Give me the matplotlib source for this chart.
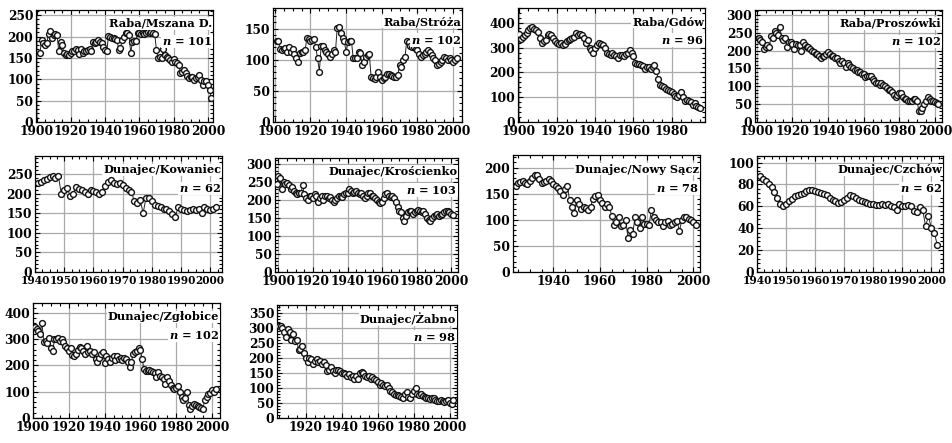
import numpy as np
import matplotlib.pyplot as plt
from matplotlib.ticker import AutoMinorLocator, MultipleLocator

plt.rcParams['font.family'] = 'DejaVu Serif'
plt.rcParams['font.weight'] = 'bold'
plt.rcParams['mathtext.fontset'] = 'custom'
plt.rcParams['mathtext.it'] = 'DejaVu Serif:bold:italic'
plt.rcParams['mathtext.rm'] = 'DejaVu Serif:bold'

# стоки (годовые значения)
mszana_start = 1902
mszana = [161, 192, 184, 180, 184, 207, 213, 196, 203, 207,
          203, 165, 186, 180, 161, 157, 158, 157, 161, 165,
          167, 170, 168, 159, 170, 161, 167, 165, 168, 170,
          165, 188, 184, 188, 192, 188, 184, 176, 168, 165,
          201, 200, 196, 196, 193, 192, 168, 172, 192, 200,
          209, 209, 203, 161, 188, 190, 190, 209, 209, 207,
          209, 206, 209, 211, 209, 211, 209, 206, 168, 149,
          151, 149, 170, 157, 153, 149, 145, 141, 147, 141,
          137, 134, 114, 118, 122, 114, 108, 102, 106, 106,
          99, 102, 106, 110, 99, 87, 95, 95, 87, 75,
          56]

stroza_start = 1901
stroza = [130, 130, 117, 115, 117, 119, 112, 120, 112, 117,
          109, 102, 96, 110, 112, 112, 115, 135, 134, 130,
          131, 134, 120, 102, 81, 122, 122, 115, 112, 109,
          105, 109, 115, 112, 151, 152, 143, 135, 130, 112,
          128, 130, 130, 102, 102, 102, 112, 110, 91, 96,
          104, 107, 109, 73, 70, 69, 73, 81, 73, 68,
          70, 73, 77, 77, 76, 74, 72, 73, 76, 91,
          89, 99, 104, 130, 128, 122, 121, 120, 117, 115,
          109, 104, 107, 109, 112, 115, 112, 107, 103, 99,
          91, 93, 96, 99, 104, 103, 100, 102, 99, 96,
          99, 102]

gdow_start = 1900
gdow = [355, 335, 345, 350, 360, 370, 380, 382, 375, 370,
        365, 340, 320, 325, 330, 350, 355, 350, 340, 325,
        320, 315, 320, 310, 315, 325, 330, 335, 340, 345,
        360, 350, 355, 350, 340, 320, 330, 300, 290, 280,
        300, 310, 320, 315, 310, 300, 280, 275, 270, 280,
        270, 265, 260, 270, 270, 265, 275, 280, 290, 280,
        265, 240, 235, 235, 230, 225, 215, 220, 220, 215,
        220, 230, 205, 175, 150, 145, 140, 135, 130, 125,
        120, 115, 105, 100, 110, 120, 100, 85, 90, 85,
        80, 70, 75, 65, 60, 55]

proszowki_start = 1901
proszowki = [235, 230, 225, 205, 210, 215, 210, 240, 235, 255,
             250, 245, 265, 235, 230, 235, 210, 225, 225, 220,
             205, 220, 215, 215, 200, 225, 215, 210, 210, 205,
             200, 195, 190, 190, 185, 180, 185, 185, 190, 195,
             190, 185, 185, 180, 180, 170, 165, 170, 165, 155,
             165, 160, 155, 150, 145, 145, 140, 140, 135, 135,
             125, 130, 130, 130, 120, 115, 110, 110, 105, 110,
             105, 100, 95, 90, 90, 85, 75, 70, 75, 80,
             80, 70, 65, 65, 60, 60, 60, 65, 65, 60,
             30, 30, 40, 50, 60, 70, 65, 60, 58, 55,
             52, 50]

kowaniec_start = 1941
kowaniec = [228, 230, 235, 238, 242, 245, 240, 245, 200, 210,
            215, 195, 198, 218, 212, 210, 205, 200, 208, 206,
            205, 200, 205, 220, 230, 235, 228, 225, 228, 222,
            215, 208, 205, 180, 175, 185, 150, 190, 188, 180,
            172, 168, 165, 162, 160, 155, 148, 140, 165, 162,
            158, 155, 158, 160, 158, 160, 150, 165, 160, 158,
            160, 165]

kroscienko_start = 1899
kroscienko = [245, 265, 260, 230, 250, 245, 248, 240, 230, 235,
              225, 220, 215, 220, 218, 240, 215, 205, 200, 210,
              210, 205, 215, 210, 195, 205, 210, 200, 210, 210,
              205, 208, 200, 195, 200, 205, 210, 212, 208, 215,
              218, 220, 230, 225, 220, 222, 225, 220, 215, 218,
              210, 205, 212, 220, 218, 212, 210, 205, 200, 195,
              190, 195, 205, 215, 218, 210, 208, 212, 205, 195,
              180, 170, 165, 150, 140, 155, 165, 170, 168, 160,
              165, 170, 172, 168, 165, 168, 160, 150, 145, 140,
              150, 155, 158, 160, 155, 158, 160, 165, 170, 170,
              165, 160, 158]

nowy_sacz_start = 1924
nowy_sacz = [165, 170, 172, 175, 170, 168, 175, 180, 185, 185,
             178, 170, 172, 175, 178, 175, 168, 165, 160, 155,
             148, 158, 165, 138, 125, 112, 138, 130, 120, 125,
             122, 118, 125, 140, 145, 148, 138, 132, 125, 130,
             125, 108, 90, 95, 105, 88, 90, 100, 65, 80,
             72, 105, 95, 85, 105, 92, 92, 90, 118, 105,
             100, 95, 95, 88, 95, 98, 90, 92, 95, 98,
             78, 100, 105, 105, 102, 100, 95, 90]

czchow_start = 1941
czchow = [88, 85, 83, 80, 78, 73, 68, 62, 60, 62,
          65, 67, 69, 70, 71, 72, 74, 75, 75, 74,
          73, 72, 71, 70, 68, 66, 65, 63, 64, 66,
          68, 70, 69, 68, 66, 65, 64, 63, 62, 62,
          61, 61, 62, 61, 62, 60, 59, 57, 62, 60,
          60, 61, 60, 56, 55, 59, 57, 42, 51, 40,
          36, 25]

zglobice_start = 1901
zglobice = [345, 340, 330, 320, 362, 290, 295, 285, 305, 265,
            255, 300, 300, 305, 295, 300, 290, 275, 265, 255,
            265, 240, 235, 245, 260, 270, 265, 255, 245, 275,
            250, 255, 245, 250, 225, 215, 230, 245, 250, 210,
            235, 225, 215, 230, 235, 220, 235, 225, 230, 220,
            230, 225, 215, 195, 215, 245, 250, 255, 265, 260,
            225, 185, 180, 180, 182, 178, 175, 170, 155, 175,
            160, 155, 150, 130, 155, 140, 125, 115, 110, 115,
            120, 100, 80, 70, 75, 100, 50, 35, 45, 55,
            50, 45, 40, 38, 35, 70, 80, 90, 95, 105,
            100, 110]

zabno_start = 1905
zabno = [305, 305, 300, 285, 270, 295, 285, 260, 280, 255,
         260, 225, 230, 240, 215, 200, 185, 200, 195, 180,
         190, 195, 185, 190, 180, 185, 175, 155, 160, 170,
         155, 150, 160, 158, 155, 150, 148, 145, 140, 145,
         135, 140, 130, 140, 128, 150, 152, 148, 140, 135,
         140, 130, 135, 128, 125, 120, 110, 115, 108, 105,
         110, 100, 90, 85, 80, 75, 75, 72, 70, 65,
         80, 85, 70, 65, 78, 90, 100, 80, 75, 78,
         72, 70, 68, 65, 62, 65, 68, 60, 58, 55,
         60, 58, 52, 55, 60, 50, 48, 60]

names = ['Raba/Mszana D.', 'Raba/Stróża', 'Raba/Gdów', 'Raba/Proszówki',
         'Dunajec/Kowaniec', 'Dunajec/Krościenko', 'Dunajec/Nowy Sącz', 'Dunajec/Czchów',
         'Dunajec/Zgłobice', 'Dunajec/Żabno']
n_labels = [101, 102, 96, 102, 62, 103, 78, 62, 102, 98]
series = [(mszana_start, mszana), (stroza_start, stroza), (gdow_start, gdow),
          (proszowki_start, proszowki), (kowaniec_start, kowaniec),
          (kroscienko_start, kroscienko), (nowy_sacz_start, nowy_sacz),
          (czchow_start, czchow), (zglobice_start, zglobice), (zabno_start, zabno)]

# положение осей в пикселях: left, right, top, bottom
W, H = 952, 443
boxes = [(36, 213, 10, 122), (273, 462, 8, 122), (518, 705, 8, 122), (755, 942, 10, 122),
         (35, 222, 156, 272), (275, 458, 158, 272), (513, 700, 155, 272), (757, 943, 156, 272),
         (33, 220, 303, 418), (277, 457, 305, 418)]
xlims = [(1899.7, 2003), (1899, 2005), (1899.5, 1997.5), (1899, 2004), (1940, 2004),
         (1898, 2004), (1922.8, 2002.8), (1940, 2004), (1900, 2004.5), (1904, 2004)]
ylims = [262, 183, 460, 314, 296, 316, 224, 106, 438, 375]
xsteps = [20, 20, 20, 20, 10, 20, 20, 10, 20, 20]
ysteps = [50, 50, 100, 50, 50, 50, 50, 20, 100, 50]

fig = plt.figure(figsize=(W / 100, H / 100), dpi=100)

for i in range(10):
    l, r, t, b = boxes[i]
    ax = fig.add_axes([l / W, 1 - b / H, (r - l) / W, (b - t) / H])
    start, vals = series[i]
    years = np.arange(start, start + len(vals))
    ax.plot(years, vals, '-', color='#222222', lw=0.7, marker='o', ms=4.2,
            mfc='white', mec='#111111', mew=1.0, zorder=3)
    ax.set_xlim(*xlims[i])
    ax.set_ylim(0, ylims[i])
    ax.xaxis.set_major_locator(MultipleLocator(xsteps[i]))
    ax.yaxis.set_major_locator(MultipleLocator(ysteps[i]))
    ax.xaxis.set_minor_locator(AutoMinorLocator(4))
    ax.yaxis.set_minor_locator(AutoMinorLocator(5))
    ax.grid(True, which='major', color='#aaaaaa', lw=0.9, zorder=0)
    ax.tick_params(which='both', direction='in', top=True, right=True,
                   labelsize=8.8, pad=2, width=0.8)
    if xsteps[i] == 10:
        ax.tick_params(axis='x', labelsize=7.6)
    ax.tick_params(which='major', length=3.5)
    ax.tick_params(which='minor', length=2)
    for s in ax.spines.values():
        s.set_linewidth(0.9)
    box = dict(facecolor='white', edgecolor='none', pad=0.6)
    ax.text(0.995, 0.88, names[i], transform=ax.transAxes, ha='right', va='center',
            fontsize=8.2, fontweight='bold', bbox=box, zorder=5)
    ax.text(0.995, 0.72, '$n$ = %d' % n_labels[i], transform=ax.transAxes,
            ha='right', va='center', fontsize=8.2, fontweight='bold', bbox=box, zorder=5)

fig.savefig('out.png', dpi=100)
